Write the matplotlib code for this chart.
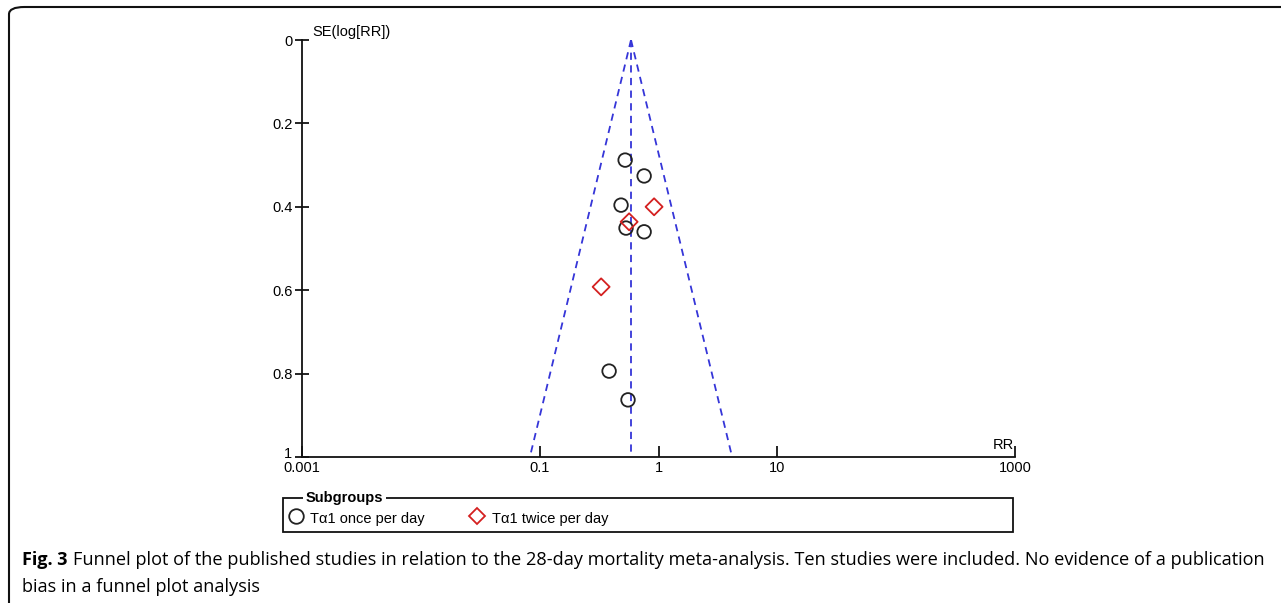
import matplotlib
matplotlib.use("Agg")
import matplotlib.pyplot as plt
import matplotlib.transforms as mtransforms
import numpy as np
from matplotlib.lines import Line2D
from matplotlib.patches import Rectangle, FancyBboxPatch

# ---------- data ----------
once_rr = [0.524, 0.757, 0.484, 0.533, 0.757, 0.384, 0.554]
once_se = [0.288, 0.326, 0.396, 0.451, 0.460, 0.794, 0.863]

twice_rr = [0.918, 0.566, 0.329]
twice_se = [0.400, 0.436, 0.592]

pooled_rr = 0.587
se_max = 1.0

x_ticks = [0.001, 0.1, 1, 10, 1000]
x_ticklabels = ["0.001", "0.1", "1", "10", "1000"]
y_ticks = [0, 0.2, 0.4, 0.6, 0.8, 1]
y_ticklabels = ["0", "0.2", "0.4", "0.6", "0.8", "1"]

W, H = 1281, 603
fig = plt.figure(figsize=(W / 100, H / 100), dpi=100)
plt.rcParams["font.family"] = ["Liberation Sans", "DejaVu Sans"]

ax = fig.add_axes([302 / W, 1 - 457 / H, (1015 - 302) / W, (457 - 40) / H])
ax.set_xscale("log")
ax.set_xlim(0.001, 1000)
ax.set_ylim(1, 0)

# funnel (pooled estimate +/- 1.96 SE)
se_line = np.array([0, se_max])
lo = np.exp(np.log(pooled_rr) - 1.96 * se_line)
hi = np.exp(np.log(pooled_rr) + 1.96 * se_line)
dash_col = "#3535d8"
ax.plot(lo, se_line, color=dash_col, lw=1.3, ls=(0, (4, 3)))
ax.plot(hi, se_line, color=dash_col, lw=1.3, ls=(0, (4, 3)))
ax.plot([pooled_rr, pooled_rr], [0, se_max], color=dash_col, lw=1.3, ls=(0, (4, 3)))

# studies
ax.scatter(once_rr, once_se, marker="o", s=95, facecolors="none",
           edgecolors="#222222", linewidths=1.3, zorder=3)
ax.scatter(twice_rr, twice_se, marker="D", s=75, facecolors="none",
           edgecolors="#d42020", linewidths=1.3, zorder=3)

for side in ["top", "right"]:
    ax.spines[side].set_visible(False)
for side in ["left", "bottom"]:
    ax.spines[side].set_linewidth(1.3)
    ax.spines[side].set_color("#111111")

ax.set_xticks(x_ticks)
ax.set_xticklabels(x_ticklabels)
ax.xaxis.set_minor_locator(matplotlib.ticker.NullLocator())
ax.set_yticks(y_ticks)
ax.set_yticklabels(y_ticklabels)
ax.tick_params(axis="x", direction="in", length=8, width=1.2, labelsize=10.5, pad=3)
ax.tick_params(axis="y", direction="inout", length=10, width=1.2, labelsize=10.5, pad=2)

# nudge the bottom "1" up a little so it sits clear of "0.001"
last = ax.get_yticklabels()[-1]
last.set_transform(last.get_transform() +
                   mtransforms.ScaledTranslation(0, 5 / 100, fig.dpi_scale_trans))

ax.text(0.014, 1.003, "SE(log[RR])", transform=ax.transAxes, fontsize=10.5,
        ha="left", va="bottom")
ax.text(0.999, 0.012, "RR", transform=ax.transAxes, fontsize=10.5,
        ha="right", va="bottom")

# legend box
lx0, lx1, ly0, ly1 = 283, 1013, 498, 532
fig.add_artist(Rectangle((lx0 / W, 1 - ly1 / H), (lx1 - lx0) / W, (ly1 - ly0) / H,
                         transform=fig.transFigure, fill=False, lw=1.3,
                         edgecolor="#111111"))
fig.text(306 / W, 1 - 498 / H, "Subgroups", fontsize=10.5, fontweight="bold",
         ha="left", va="center",
         bbox=dict(facecolor="white", edgecolor="none", pad=2))
fig.add_artist(Line2D([296 / W], [1 - 516 / H], marker="o", markersize=10.5,
                      markerfacecolor="none", markeredgecolor="#222222",
                      markeredgewidth=1.3, transform=fig.transFigure))
fig.text(310 / W, 1 - 519 / H, "Tα1 once per day", fontsize=10.5,
         ha="left", va="center")
fig.add_artist(Line2D([477 / W], [1 - 516 / H], marker="D", markersize=8.5,
                      markerfacecolor="none", markeredgecolor="#d42020",
                      markeredgewidth=1.3, transform=fig.transFigure))
fig.text(492 / W, 1 - 519 / H, "Tα1 twice per day", fontsize=10.5,
         ha="left", va="center")

# outer frame (open at right and bottom)
fig.add_artist(FancyBboxPatch((9 / W, -0.05), 1.2, 1 - 7 / H + 0.05,
                              boxstyle="round,pad=0,rounding_size=0.012",
                              transform=fig.transFigure, fill=False,
                              lw=1.5, edgecolor="#111111"))

# caption
cap_font = ["Open Sans", "DejaVu Sans"]
fig.text(22 / W, 1 - 560 / H, "Fig. 3", fontsize=13, fontweight="bold",
         family=cap_font, ha="left", va="center")
fig.text(73 / W, 1 - 560 / H,
         "Funnel plot of the published studies in relation to the 28-day mortality "
         "meta-analysis. Ten studies were included. No evidence of a publication",
         fontsize=13.05, family=cap_font, ha="left", va="center")
fig.text(22 / W, 1 - 587 / H, "bias in a funnel plot analysis", fontsize=13.05,
         family=cap_font, ha="left", va="center")

fig.savefig("out.png", dpi=100)
